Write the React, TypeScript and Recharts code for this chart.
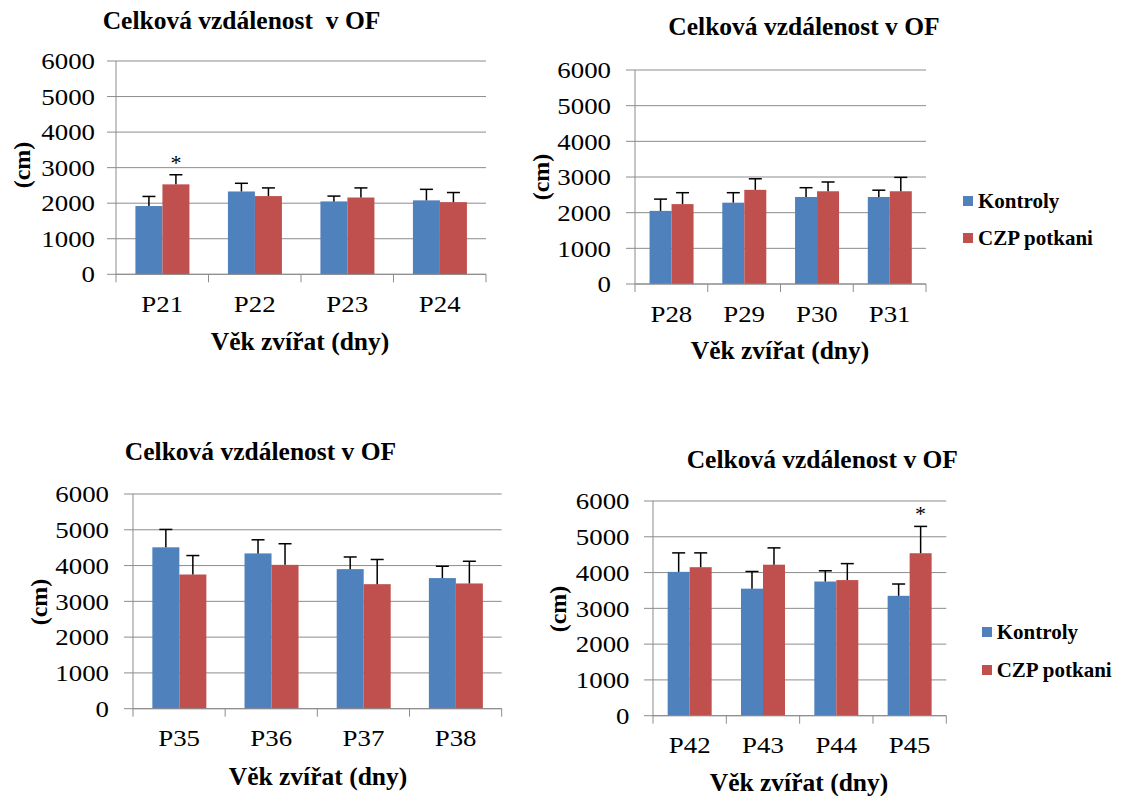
import { BarChart, Bar, XAxis, YAxis, CartesianGrid } from "recharts";

const serif = "Liberation Serif";
const blue = "#4F81BD";
const red = "#C0504D";
const gray = "#8c8c8c";

const yTicks = [0, 1000, 2000, 3000, 4000, 5000, 6000];

// P21 - P24
const days1 = ["P21", "P22", "P23", "P24"];
const kontroly1 = [1920, 2330, 2050, 2080];
const kontrolySem1 = [270, 230, 150, 310];
const czp1 = [2530, 2200, 2160, 2030];
const czpSem1 = [270, 230, 270, 270];
const czpSig1 = [true, false, false, false];

// P28 - P31
const days2 = ["P28", "P29", "P30", "P31"];
const kontroly2 = [2050, 2280, 2440, 2440];
const kontrolySem2 = [330, 280, 260, 190];
const czp2 = [2240, 2640, 2600, 2600];
const czpSem2 = [320, 310, 260, 390];
const czpSig2 = [false, false, false, false];

// P35 - P38
const days3 = ["P35", "P36", "P37", "P38"];
const kontroly3 = [4510, 4340, 3900, 3650];
const kontrolySem3 = [500, 380, 340, 330];
const czp3 = [3750, 4020, 3480, 3500];
const czpSem3 = [530, 590, 690, 620];
const czpSig3 = [false, false, false, false];

// P42 - P45
const days4 = ["P42", "P43", "P44", "P45"];
const kontroly4 = [4020, 3550, 3750, 3350];
const kontrolySem4 = [530, 480, 300, 330];
const czp4 = [4150, 4220, 3790, 4540];
const czpSem4 = [400, 470, 460, 750];
const czpSig4 = [false, false, false, true];

const errShape = (valueKey: string, semKey: string, sigKey?: string) => (p: any) => {
  const { x, y, width, height, fill, payload } = p;
  const per = height / payload[valueKey];
  const top = y - payload[semKey] * per;
  const cx = x + width / 2;
  return (
    <g>
      <rect x={x} y={y} width={width} height={height} fill={fill} />
      <line x1={cx} y1={y} x2={cx} y2={top} stroke="#000" strokeWidth={1.5} />
      <line x1={cx - 6.5} y1={top} x2={cx + 6.5} y2={top} stroke="#000" strokeWidth={1.5} />
      {sigKey && payload[sigKey] && (
        <text x={cx} y={top - 5} textAnchor="middle" fontFamily={serif} fontSize={22} fill="#000">
          *
        </text>
      )}
    </g>
  );
};

function Txt({ x, y, size = 25.5, bold = true, rotate = false, start = false, children }: any) {
  return (
    <div
      style={{
        position: "absolute",
        left: x,
        top: y,
        transform: `translate(${start ? "0" : "-50%"},-50%)${rotate ? " rotate(-90deg)" : ""}`,
        fontFamily: serif,
        fontSize: size,
        fontWeight: bold ? "bold" : "normal",
        whiteSpace: "pre",
        lineHeight: 1,
        color: "#000",
      }}
    >
      {children}
    </div>
  );
}

function Panel({ days, kontroly, kontrolySem, czp, czpSem, czpSig, left, top, right, bottom, gap, labelGap }: any) {
  const plotW = right - left;
  const plotH = bottom - top;
  const padL = 100, padT = 20, padR = 10, padB = 50;
  const band = plotW / days.length;
  const axisY = padT + plotH;
  const data = days.map((d: string, i: number) => ({
    day: d,
    kontroly: kontroly[i],
    kontrolySem: kontrolySem[i],
    czp: czp[i],
    czpSem: czpSem[i],
    czpSig: czpSig[i],
  }));

  const XTick = (p: any) => {
    const last = p.index === days.length - 1;
    return (
      <g>
        <line x1={p.x - band / 2} y1={axisY} x2={p.x - band / 2} y2={axisY + 8} stroke={gray} />
        {last && <line x1={p.x + band / 2} y1={axisY} x2={p.x + band / 2} y2={axisY + 8} stroke={gray} />}
        <text
          transform={`translate(${p.x},${axisY + 37.5}) scale(1.12,1)`}
          textAnchor="middle"
          fontFamily={serif}
          fontSize={24}
          fill="#000"
        >
          {p.payload.value}
        </text>
      </g>
    );
  };

  const YTick = (p: any) => (
    <text
      transform={`translate(${p.x},${p.y}) scale(1.12,1)`}
      textAnchor="end"
      dy="0.34em"
      fontFamily={serif}
      fontSize={24}
      fill="#000"
    >
      {p.payload.value}
    </text>
  );

  return (
    <div style={{ position: "absolute", left: left - padL, top: top - padT }}>
      <BarChart
        width={plotW + padL + padR}
        height={plotH + padT + padB}
        data={data}
        margin={{ top: padT, right: padR, left: 20, bottom: 10 }}
        barCategoryGap={gap}
        barGap={0}
      >
        <CartesianGrid vertical={false} stroke={gray} />
        <XAxis
          dataKey="day"
          height={40}
          interval={0}
          axisLine={{ stroke: gray }}
          tickLine={false}
          tickSize={8}
          tickMargin={0}
          tick={XTick}
        />
        <YAxis
          width={80}
          domain={[0, 6000]}
          ticks={yTicks}
          interval={0}
          axisLine={{ stroke: gray }}
          tickLine={{ stroke: gray }}
          tickSize={9}
          tickMargin={labelGap - 9}
          tick={YTick}
        />
        <Bar dataKey="kontroly" fill={blue} isAnimationActive={false} shape={errShape("kontroly", "kontrolySem")} />
        <Bar dataKey="czp" fill={red} isAnimationActive={false} shape={errShape("czp", "czpSem", "czpSig")} />
      </BarChart>
    </div>
  );
}

function Legend({ x, y1, y2 }: any) {
  return (
    <>
      <div style={{ position: "absolute", left: x, top: y1 - 5, width: 10, height: 10, background: blue }} />
      <div style={{ position: "absolute", left: x, top: y2 - 5, width: 10, height: 10, background: red }} />
      <Txt x={x + 15} y={y1} size={21} start>
        Kontroly
      </Txt>
      <Txt x={x + 15} y={y2} size={21} start>
        CZP potkani
      </Txt>
    </>
  );
}

export default function App() {
  return (
    <div style={{ position: "absolute", left: 0, top: 0, width: 1121, height: 796, background: "#fff", overflow: "hidden" }}>
      <Panel
        days={days1} kontroly={kontroly1} kontrolySem={kontrolySem1} czp={czp1} czpSem={czpSem1} czpSig={czpSig1}
        left={116} top={60.7} right={486} bottom={274} gap="21%" labelGap={21}
      />
      <Panel
        days={days2} kontroly={kontroly2} kontrolySem={kontrolySem2} czp={czp2} czpSem={czpSem2} czpSig={czpSig2}
        left={635} top={70} right={926} bottom={284} gap="20%" labelGap={24}
      />
      <Panel
        days={days3} kontroly={kontroly3} kontrolySem={kontrolySem3} czp={czp3} czpSem={czpSem3} czpSig={czpSig3}
        left={133.3} top={494} right={502} bottom={708.7} gap="21%" labelGap={24}
      />
      <Panel
        days={days4} kontroly={kontroly4} kontrolySem={kontrolySem4} czp={czp4} czpSem={czpSem4} czpSig={czpSig4}
        left={652.7} top={501.3} right={946} bottom={716} gap="20%" labelGap={23.5}
      />

      <Txt x={241.5} y={20.5}>Celková vzdálenost  v OF</Txt>
      <Txt x={804} y={27}>Celková vzdálenost v OF</Txt>
      <Txt x={260.5} y={451.7}>Celková vzdálenost v OF</Txt>
      <Txt x={822.3} y={460}>Celková vzdálenost v OF</Txt>

      <Txt x={300} y={342}>Věk zvířat (dny)</Txt>
      <Txt x={780} y={351}>Věk zvířat (dny)</Txt>
      <Txt x={318} y={776.7}>Věk zvířat (dny)</Txt>
      <Txt x={799} y={782.5}>Věk zvířat (dny)</Txt>

      <Txt x={22} y={165} size={24} rotate>(cm)</Txt>
      <Txt x={541} y={177} size={24} rotate>(cm)</Txt>
      <Txt x={39} y={602} size={24} rotate>(cm)</Txt>
      <Txt x={557.5} y={609} size={24} rotate>(cm)</Txt>

      <Legend x={963} y1={201} y2={238} />
      <Legend x={981.7} y1={632} y2={670} />
    </div>
  );
}
